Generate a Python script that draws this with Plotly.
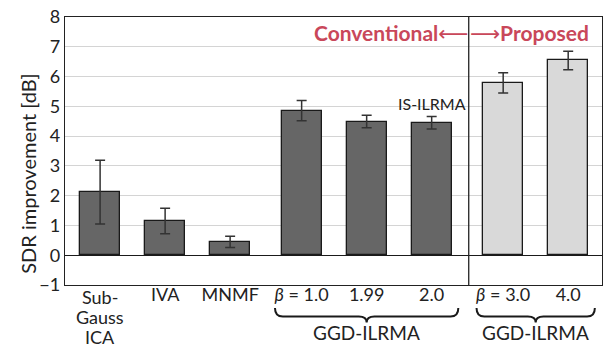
import plotly.graph_objects as go

# SDR improvement per method (mean and spread, in dB)
tick_labels = ["Sub-<br>Gauss<br>ICA", "IVA", "MNMF",
               "<i>β</i> = 1.0", "1.99", "2.0",
               "<i>β</i> = 3.0", "4.0"]
groups = [0, 0, 0, 1, 1, 1, 2, 2]          # 0: baselines, 1: conventional GGD, 2: proposed GGD
sdr_mean = [2.12, 1.15, 0.45, 4.86, 4.49, 4.45, 5.79, 6.54]
sdr_err = [1.07, 0.43, 0.19, 0.34, 0.21, 0.21, 0.34, 0.31]
proposed = [False, False, False, False, False, False, True, True]

# small extra gap between the method groups
xpos = [i + 1 + 0.1 * g for i, g in enumerate(groups)]

FONT = "Lato, 'DejaVu Sans', sans-serif"
RED = "#c9475a"
INK = "#222222"

fig = go.Figure()
fig.add_trace(go.Bar(
    x=xpos, y=sdr_mean, width=0.615,
    marker=dict(color=["#d9d9d9" if p else "#666666" for p in proposed],
                line=dict(color="#1a1a1a", width=1.3)),
    error_y=dict(type="data", array=sdr_err, color="#333333",
                 thickness=1.5, width=5),
    showlegend=False,
))

divider = (xpos[5] + xpos[6]) / 2 + 0.02

# multi-line labels are stacked by hand with a tighter line pitch
ticktext = [t if "<br>" not in t else "" for t in tick_labels]

fig.update_layout(
    width=610, height=350,
    margin=dict(l=65, r=8, t=17, b=65),
    paper_bgcolor="white", plot_bgcolor="white",
    font=dict(family=FONT, size=18, color=INK),
    bargap=0,
    xaxis=dict(range=[0.46, 8.72], tickmode="array", tickvals=xpos,
               ticktext=ticktext, ticks="", showgrid=False,
               showline=True, linecolor=INK, linewidth=1.3, mirror=True,
               zeroline=False, tickfont=dict(size=18), automargin=False,
               ticklabelstandoff=-7),
    yaxis=dict(range=[-1, 8], dtick=1, showgrid=True, gridcolor="#d4d4d4",
               gridwidth=1.3, zeroline=True, zerolinecolor="#1a1a1a",
               zerolinewidth=1.3, showline=True, linecolor=INK,
               linewidth=1.3, mirror=True, ticks="", tickfont=dict(size=18),
               automargin=False),
)

for x, t in zip(xpos, tick_labels):
    if "<br>" in t:
        for k, line in enumerate(t.split("<br>")):
            fig.add_annotation(x=x, y=-0.045 - 0.075 * k, xref="x", yref="paper",
                               text=line, showarrow=False, xanchor="center",
                               yanchor="middle", font=dict(size=18, color=INK))

# y-axis title
fig.add_annotation(x=-0.069, y=0.415, xref="paper", yref="paper",
                   text="SDR improvement [dB]", textangle=-90, showarrow=False,
                   xanchor="center", yanchor="middle",
                   font=dict(size=20, color=INK))

# separator between conventional and proposed methods
fig.add_shape(type="line", xref="x", yref="paper", x0=divider, x1=divider,
              y0=0, y1=1, line=dict(color=INK, width=1.3))

fig.add_annotation(x=divider, y=7.48, xref="x", yref="y", text="<b>Conventional</b>⟵",
                   showarrow=False, xanchor="right", yanchor="middle",
                   font=dict(size=21, color=RED, family=FONT), xshift=1)
fig.add_annotation(x=divider, y=7.48, xref="x", yref="y", text="⟶<b>Proposed</b>",
                   showarrow=False, xanchor="left", yanchor="middle",
                   font=dict(size=21, color=RED, family=FONT), xshift=-1)

fig.add_annotation(x=xpos[5], y=5.08, xref="x", yref="y", text="IS-ILRMA",
                   showarrow=False, xanchor="center", yanchor="middle",
                   font=dict(size=16, color=INK))


def brace(x0, x1, yt=-0.086, ym=-0.118, yb=-0.14, d=0.12):
    xm = (x0 + x1) / 2
    return (f"M {x0},{yt} Q {x0},{ym} {x0 + d},{ym} L {xm - d},{ym} "
            f"Q {xm},{ym} {xm},{yb} Q {xm},{ym} {xm + d},{ym} "
            f"L {x1 - d},{ym} Q {x1},{ym} {x1},{yt}")


for lo, hi in [(3, 5), (6, 7)]:
    x0 = xpos[lo] - 0.41
    x1 = xpos[hi] + 0.41
    fig.add_shape(type="path", xref="x", yref="paper", path=brace(x0, x1),
                  line=dict(color="#1a1a1a", width=2))
    fig.add_annotation(x=(x0 + x1) / 2, y=-0.177, xref="x", yref="paper",
                       text="GGD-ILRMA", showarrow=False, xanchor="center",
                       yanchor="middle", font=dict(size=19, color=INK))

fig.write_html("out.html")
